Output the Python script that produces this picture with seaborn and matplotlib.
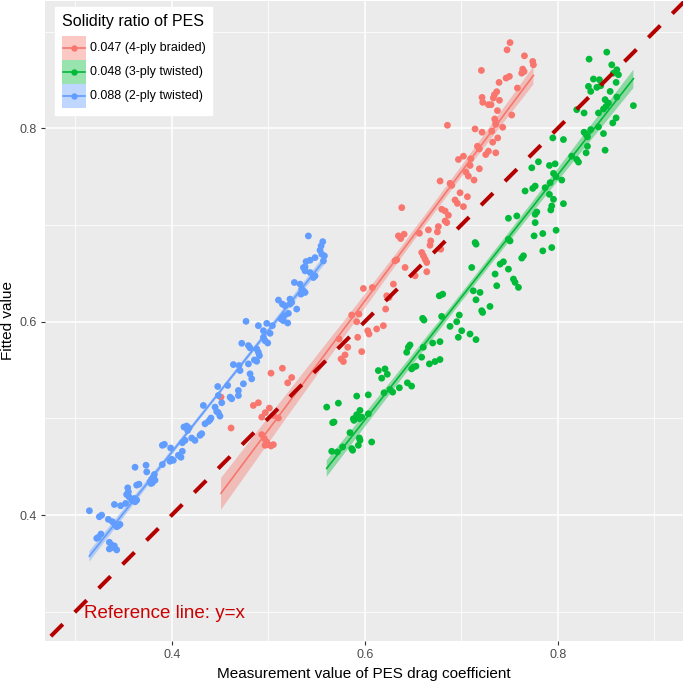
import numpy as np
import pandas as pd
import matplotlib
matplotlib.use("Agg")
import matplotlib.pyplot as plt
import seaborn as sns
from matplotlib.patches import Rectangle
from matplotlib.lines import Line2D
from matplotlib.ticker import MultipleLocator

# ---------------- data ----------------
groups = ["0.047 (4-ply braided)", "0.048 (3-ply twisted)", "0.088 (2-ply twisted)"]
colors = ["#F8766D", "#00BA38", "#619CFF"]

blue_x = [0.3147, 0.3250, 0.3274, 0.3343, 0.3385, 0.3412, 0.3440, 0.3464, 0.3430, 0.3447,
          0.3267, 0.3240, 0.3223, 0.3354, 0.3378, 0.3406, 0.3430, 0.3354, 0.3385, 0.3406,
          0.3471, 0.3523, 0.3544, 0.3551, 0.3533, 0.3558, 0.3585, 0.3620, 0.3637, 0.3613,
          0.3620, 0.3637, 0.3661, 0.3734, 0.3741, 0.3775, 0.3792, 0.3810, 0.3820, 0.3799,
          0.3827, 0.3786, 0.3903, 0.3982, 0.4000, 0.4017, 0.3903, 0.3924, 0.3989, 0.4069,
          0.4096, 0.4110, 0.4110, 0.4138, 0.4127, 0.4155, 0.4179, 0.4165, 0.4207, 0.4241,
          0.4293, 0.4311, 0.4328, 0.4345, 0.4380, 0.4397, 0.4407, 0.4449, 0.4466, 0.4483,
          0.4500, 0.4518, 0.4483,
          0.5416, 0.5565, 0.5548, 0.5537, 0.5555, 0.5582, 0.5572, 0.5485, 0.5434, 0.5392,
          0.5365, 0.5382, 0.5382, 0.5434, 0.5485, 0.5468, 0.5271, 0.5330, 0.5347, 0.5365,
          0.5340, 0.5382, 0.5106, 0.5147, 0.5175, 0.5226, 0.5226, 0.5244, 0.5295, 0.5209,
          0.5168, 0.5133, 0.5157, 0.5202, 0.4770, 0.4898, 0.4985, 0.5043, 0.4950, 0.5019,
          0.4950, 0.4967, 0.4995, 0.4726, 0.4795, 0.4812, 0.4881, 0.4898, 0.4909, 0.4857,
          0.4881, 0.4639, 0.4698, 0.4708, 0.4795, 0.4812, 0.4829, 0.4743, 0.4691, 0.4580,
          0.4477, 0.4605, 0.4622, 0.4691]
blue_y = [0.4045, 0.3983, 0.4000, 0.3956, 0.3932, 0.3904, 0.3897, 0.3904, 0.3880, 0.3890,
          0.3804, 0.3770, 0.3760, 0.3719, 0.3691, 0.3681, 0.3640, 0.3650, 0.3664, 0.4110,
          0.4097, 0.4121, 0.4282, 0.4241, 0.4213, 0.4189, 0.4155, 0.4138, 0.4155, 0.4172,
          0.4495, 0.4310, 0.4320, 0.4516, 0.4447, 0.4344, 0.4371, 0.4395, 0.4420, 0.4334,
          0.4361, 0.4327, 0.4523, 0.4557, 0.4578, 0.4567, 0.4722, 0.4732, 0.4694, 0.4619,
          0.4598, 0.4660, 0.4749, 0.4773, 0.4911, 0.4921, 0.4901, 0.4876, 0.4797, 0.4773,
          0.4825, 0.4842, 0.5134, 0.4945, 0.4969, 0.4986, 0.5004, 0.5117, 0.5072, 0.5059,
          0.5024, 0.5162, 0.5237,
          0.6887, 0.6828, 0.6784, 0.6739, 0.6698, 0.6681, 0.6629, 0.6663, 0.6636, 0.6622,
          0.6560, 0.6567, 0.6526, 0.6509, 0.6474, 0.6457, 0.6406, 0.6389, 0.6337, 0.6320,
          0.6285, 0.6303, 0.6224, 0.6182, 0.6165, 0.6234, 0.6182, 0.6200, 0.6131, 0.6086,
          0.6062, 0.6028, 0.6011, 0.5987, 0.6004, 0.5959, 0.5983, 0.5959, 0.5907, 0.5880,
          0.5839, 0.5804, 0.5780, 0.5777, 0.5753, 0.5729, 0.5718, 0.5684, 0.5650, 0.5605,
          0.5591, 0.5557, 0.5547, 0.5495, 0.5564, 0.5461, 0.5409, 0.5358, 0.5289, 0.5341,
          0.5330, 0.5220, 0.5203, 0.5237]

red_x = [0.4511, 0.4615, 0.4846, 0.4898, 0.5012, 0.4933, 0.5029, 0.5147, 0.5202, 0.5243,
         0.4933, 0.4960, 0.4984, 0.5002, 0.4967, 0.5029, 0.5053, 0.5734, 0.5755, 0.5779,
         0.5796, 0.5824, 0.5865, 0.5917, 0.5941, 0.5927, 0.5969, 0.6031, 0.6045, 0.6124,
         0.6193, 0.5986, 0.6079, 0.6217, 0.6228, 0.6252, 0.5053, 0.5105, 0.4970,
         0.7506, 0.7475, 0.7655, 0.7741, 0.7748, 0.7637, 0.7651, 0.7627, 0.7499, 0.7465,
         0.7209, 0.7392, 0.7582, 0.7368, 0.7344, 0.7333, 0.7396, 0.7216, 0.7223, 0.7282,
         0.7309, 0.7375, 0.7523, 0.7347, 0.7358, 0.7358, 0.7430, 0.7143, 0.7216, 0.7316,
         0.7378, 0.7326, 0.7168, 0.7188, 0.7282, 0.7254, 0.7358, 0.7098, 0.7023, 0.6971,
         0.7092, 0.7188, 0.7050, 0.7074, 0.7133, 0.6857, 0.6781, 0.6884, 0.6902, 0.6988,
         0.7064, 0.6936, 0.6960, 0.7023, 0.6798, 0.6833, 0.6867, 0.6850, 0.6833, 0.6763,
         0.6753, 0.6660, 0.6567, 0.6684, 0.6677, 0.6788, 0.6591, 0.6608, 0.6625, 0.6643,
         0.6643, 0.6522, 0.6418, 0.6314, 0.6332, 0.6297, 0.6384, 0.6349, 0.6373, 0.6408]
red_y = [0.5220, 0.4901, 0.5134, 0.5162, 0.5107, 0.5014, 0.5468, 0.5519, 0.5368, 0.5423,
         0.4832, 0.4791, 0.4756, 0.4729, 0.4722, 0.4715, 0.4729, 0.5822, 0.5615, 0.5588,
         0.5657, 0.5736, 0.6069, 0.6000, 0.6079, 0.5839, 0.5691, 0.5907, 0.5873, 0.5925,
         0.5959, 0.6344, 0.6354, 0.6131, 0.6268, 0.6251, 0.5031, 0.5004, 0.5060,
         0.8887, 0.8812, 0.8750, 0.8692, 0.8657, 0.8613, 0.8588, 0.8571, 0.8537, 0.8520,
         0.8599, 0.8475, 0.8417, 0.8379, 0.8348, 0.8314, 0.8290, 0.8320, 0.8269, 0.8245,
         0.8245, 0.8183, 0.8138, 0.8097, 0.8063, 0.8042, 0.8011, 0.7994, 0.7960, 0.7970,
         0.7901, 0.7857, 0.7815, 0.7788, 0.7764, 0.7729, 0.7747, 0.7685, 0.7712, 0.7678,
         0.7616, 0.7582, 0.7547, 0.7506, 0.7465, 0.8032, 0.7455, 0.7431, 0.7410, 0.7334,
         0.7293, 0.7259, 0.7224, 0.7190, 0.7163, 0.7145, 0.7101, 0.7025, 0.7042, 0.6984,
         0.6929, 0.6950, 0.6915, 0.6836, 0.6791, 0.6750, 0.6716, 0.6682, 0.6647, 0.6613,
         0.6517, 0.6475, 0.6561, 0.6630, 0.6640, 0.6389, 0.7180, 0.6888, 0.6860, 0.6905]

green_x = [0.7125, 0.7195, 0.7153, 0.7298, 0.7212, 0.7222, 0.6773, 0.6808, 0.6600, 0.6614,
           0.6797, 0.6884, 0.6953, 0.6980, 0.7005, 0.6970, 0.7091, 0.7153, 0.6704, 0.6780,
           0.6607, 0.6469, 0.6452, 0.6435, 0.6590, 0.6670, 0.6728, 0.6780, 0.6504, 0.6531,
           0.6486, 0.6141, 0.6210, 0.6234, 0.6176, 0.6442, 0.6486, 0.6359, 0.6262, 0.6290,
           0.6200, 0.5917, 0.6037, 0.5606, 0.5727, 0.5951, 0.5917, 0.5882, 0.5889, 0.5968,
           0.5944, 0.6037, 0.5668, 0.5682, 0.5847, 0.5944, 0.5951, 0.5934, 0.6072, 0.5865,
           0.5875, 0.5771, 0.5716, 0.5658,
           0.8508, 0.8325, 0.8560, 0.8612, 0.8577, 0.8629, 0.8605, 0.8370, 0.8432, 0.8446,
           0.8405, 0.8318, 0.8342, 0.8543, 0.8612, 0.8491, 0.8525, 0.8501, 0.8474, 0.8422,
           0.8784, 0.8273, 0.8197, 0.8605, 0.8570, 0.8422, 0.8342, 0.8273, 0.8294, 0.8308,
           0.8474, 0.7949, 0.8059, 0.8308, 0.8294, 0.8491, 0.8145, 0.8197, 0.8215, 0.7731,
           0.7800, 0.7914, 0.7973, 0.7956, 0.7983, 0.8042, 0.7921, 0.7869, 0.7914, 0.7956,
           0.7766, 0.7741, 0.7662, 0.8059, 0.7938, 0.7928, 0.7783, 0.7766, 0.7576, 0.7489,
           0.7766, 0.7983, 0.7845, 0.7755, 0.7489, 0.7506, 0.7144, 0.7154, 0.7938, 0.7845,
           0.7645, 0.7627, 0.7437, 0.7403, 0.7489, 0.7109, 0.7351, 0.7541, 0.7558, 0.7368,
           0.7593]
green_y = [0.6320, 0.6303, 0.6227, 0.6158, 0.6114, 0.6096, 0.6268, 0.6285, 0.6035, 0.6017,
           0.6055, 0.5952, 0.6000, 0.6069, 0.5907, 0.5839, 0.5873, 0.5815, 0.5780, 0.5794,
           0.5736, 0.5760, 0.5736, 0.5684, 0.5633, 0.5564, 0.5588, 0.5609, 0.5530, 0.5540,
           0.5512, 0.5495, 0.5512, 0.5457, 0.5416, 0.5368, 0.5334, 0.5317, 0.5299, 0.5272,
           0.5265, 0.5231, 0.5244, 0.5117, 0.5158, 0.5083, 0.5038, 0.4997, 0.4980, 0.5014,
           0.4997, 0.5048, 0.4956, 0.4963, 0.4853, 0.4798, 0.4774, 0.4722, 0.4756, 0.4688,
           0.4671, 0.4705, 0.4653, 0.4660,
           0.8788, 0.8716, 0.8657, 0.8606, 0.8571, 0.8554, 0.8475, 0.8510, 0.8503, 0.8441,
           0.8424, 0.8434, 0.8382, 0.8382, 0.8324, 0.8297, 0.8262, 0.8228, 0.8200, 0.8159,
           0.8235, 0.8159, 0.8193, 0.8108, 0.8056, 0.8015, 0.7987, 0.7960, 0.7936, 0.7912,
           0.7946, 0.7901, 0.7884, 0.7815, 0.7747, 0.7774, 0.7712, 0.7678, 0.7651, 0.7592,
           0.7654, 0.7616, 0.7633, 0.7534, 0.7499, 0.7465, 0.7438, 0.7386, 0.7317, 0.7266,
           0.7403, 0.7379, 0.7352, 0.7221, 0.7197, 0.7156, 0.7135, 0.7111, 0.7094, 0.7070,
           0.7025, 0.6946, 0.6912, 0.6888, 0.6853, 0.6836, 0.6819, 0.6802, 0.6767, 0.6733,
           0.6682, 0.6658, 0.6620, 0.6596, 0.6544, 0.6561, 0.6493, 0.6441, 0.6407, 0.6372,
           0.6355]

x_label = "Measurement value of PES drag coefficient"
y_label = "Fitted value"
legend_title = "Solidity ratio of PES"
ref_text = "Reference line: y=x"

# ---------------- build table ----------------
frames = []
for g, xs, ys in zip(groups, [red_x, green_x, blue_x], [red_y, green_y, blue_y]):
    frames.append(pd.DataFrame({"measured": xs, "fitted": ys, "group": g}))
df = pd.concat(frames, ignore_index=True)
palette = dict(zip(groups, colors))

# ---------------- figure ----------------
plt.rcParams["font.family"] = ["Liberation Sans", "DejaVu Sans"]
fig = plt.figure(figsize=(6.85, 6.86), dpi=100)
ax = fig.add_axes([45/685, 45/686, 638/685, 640/686])
ax.set_facecolor("#EBEBEB")

xlim = (0.2687, 0.9298)
ylim = (0.2698, 0.9317)

ax.xaxis.set_major_locator(MultipleLocator(0.2))
ax.yaxis.set_major_locator(MultipleLocator(0.2))
ax.xaxis.set_minor_locator(MultipleLocator(0.1))
ax.yaxis.set_minor_locator(MultipleLocator(0.1))
ax.grid(which="major", color="white", linewidth=1.1)
ax.grid(which="minor", color="white", linewidth=0.55)
ax.set_axisbelow(True)
for s in ax.spines.values():
    s.set_visible(False)
ax.tick_params(which="major", length=3, width=0.8, color="#333333",
               labelsize=9, labelcolor="#4D4D4D", pad=3)
ax.tick_params(which="minor", length=0)

sns.scatterplot(data=df, x="measured", y="fitted", hue="group", palette=palette,
                s=24, linewidth=0, alpha=1, ax=ax, legend=False, zorder=2)

n_before = len(ax.collections)
for g in groups:
    sub = df[df["group"] == g]
    sns.regplot(data=sub, x="measured", y="fitted", scatter=False, ax=ax,
                color=palette[g], ci=95, seed=1, truncate=True,
                line_kws={"linewidth": 1.2, "zorder": 3})
for coll in ax.collections[n_before:]:
    coll.set_alpha(0.4)
    coll.set_zorder(2.5)
    coll.set_linewidth(0)

ax.set_xlim(*xlim)
ax.set_ylim(*ylim)

# reference line y = x
ax.plot([0.25, 0.95], [0.25, 0.95], color="#B50000", linewidth=2.9,
        dashes=(4.2, 4.2), zorder=4, solid_capstyle="butt")
ax.text(0.309, 0.2985, ref_text, color="#CC0000", fontsize=13.5,
        ha="left", va="center", zorder=5)

ax.set_xlabel(x_label, fontsize=11, color="black", labelpad=4)
ax.set_ylabel(y_label, fontsize=11, color="black", labelpad=3)


# ---------------- legend (ggplot-like keys) ----------------
class KeyHandler:
    def legend_artist(self, legend, orig_handle, fontsize, handlebox):
        col = orig_handle.get_color()
        x0, y0 = -handlebox.xdescent, -handlebox.ydescent
        w, h = handlebox.width, handlebox.height
        tr = handlebox.get_transform()
        rect = Rectangle((x0, y0), w, h, facecolor=col, alpha=0.4, edgecolor="none",
                         transform=tr)
        yc = y0 + h / 2
        ln = Line2D([x0 + 1, x0 + w - 1], [yc, yc], color=col, linewidth=1.2,
                    transform=tr)
        mk = Line2D([x0 + w / 2], [yc], color=col, marker="o", markersize=4.6,
                    markeredgewidth=0, linestyle="none", transform=tr)
        handlebox.add_artist(rect)
        handlebox.add_artist(ln)
        handlebox.add_artist(mk)
        return rect


handles = [Line2D([], [], color=palette[g]) for g in groups]
leg = ax.legend(handles, groups, title=legend_title, loc="upper left",
                bbox_to_anchor=(0.0157, 0.991), fontsize=9, title_fontsize=11.5,
                frameon=True, fancybox=False, framealpha=1, edgecolor="white",
                handlelength=1.92, handleheight=2.58, labelspacing=0.0,
                handletextpad=0.3, borderpad=0.55, borderaxespad=0,
                handler_map={Line2D: KeyHandler()})
leg._legend_box.align = "left"
leg._legend_box.sep = 5
leg.set_zorder(6)

fig.savefig("out.png", dpi=100, facecolor="white")
